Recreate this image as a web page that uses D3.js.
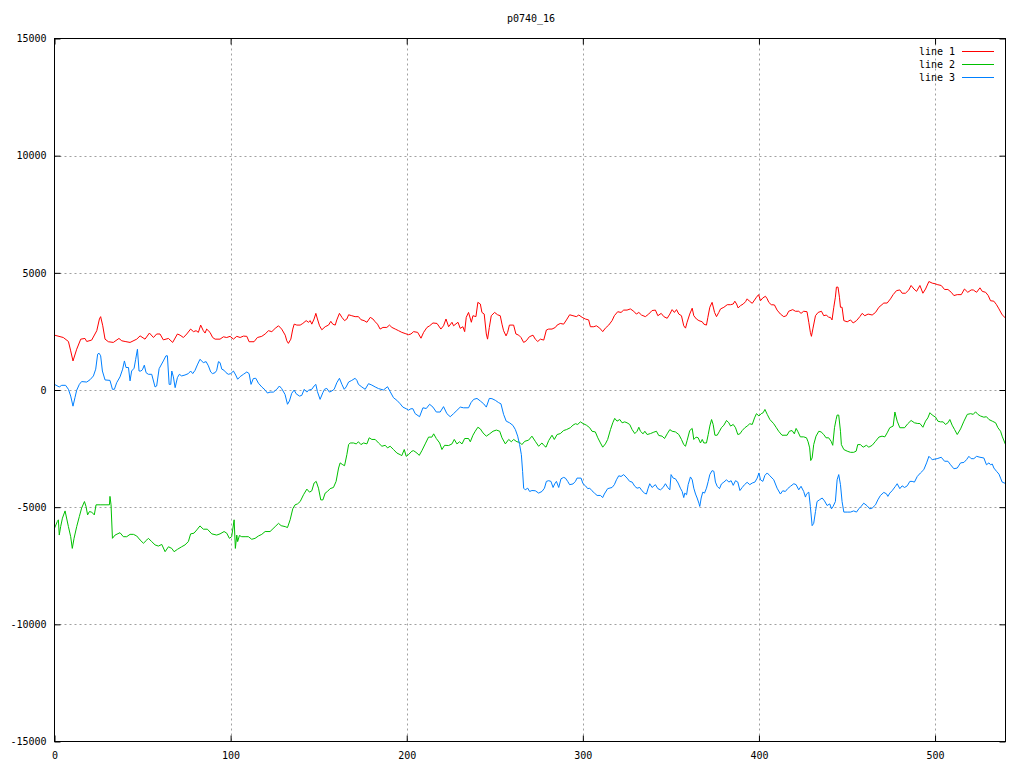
<!DOCTYPE html>
<html><head><meta charset="utf-8">
<script src="https://cdn.jsdelivr.net/npm/d3@7"></script>
<style>body{margin:0;background:#fff}svg{display:block}text{font-family:"DejaVu Sans Mono",monospace;font-size:10px;fill:#000}</style>
</head><body>
<script>
const title = "p0740_16";
const seriesNames = ["line 1", "line 2", "line 3"];
const xTicks = [0, 100, 200, 300, 400, 500];
const yTicks = [-15000, -10000, -5000, 0, 5000, 10000, 15000];
const line1 = [[0,2340],[5,2240],[7.9,2070],[9.2,1670],[10.5,1240],[12.6,1740],[14.9,2170],[17.3,2200],[18.3,2070],[21.1,2130],[24,2530],[25.5,3030],[26.2,3130],[27.4,2740],[28.7,2170],[30.6,2060],[33.4,2030],[36.6,2200],[38.2,2100],[40.1,2070],[42.9,2030],[46.7,2170],[48.6,2310],[51.4,2170],[53.9,2430],[56.2,2240],[58,2390],[59.9,2390],[61.8,2140],[64.7,2200],[67.1,2030],[69.8,2390],[71.3,2340],[73.2,2240],[75.1,2390],[77.3,2600],[78.9,2490],[80.4,2530],[81.7,2460],[83,2770],[84.5,2530],[85.5,2430],[86.4,2600],[88.3,2460],[89.8,2240],[91.2,2170],[94,2170],[95.9,2270],[97.8,2240],[99.7,2290],[101.6,2170],[103.5,2290],[105.4,2240],[107.3,2300],[109.2,2290],[110.5,2060],[113.3,2060],[115.2,2240],[117.7,2290],[119.6,2390],[121.5,2530],[123.4,2490],[125.3,2630],[127.2,2740],[129,2600],[131,2340],[131.9,2100],[132.8,1990],[134.2,2170],[135.3,2600],[136.1,2810],[137.6,2770],[139.5,2770],[141,2840],[142.9,2960],[144.2,2890],[145.2,2960],[146.1,2810],[147.4,3030],[148.4,3270],[149.3,3030],[150.5,2740],[151.8,2570],[153.7,2700],[155.6,2770],[156.9,2930],[158,2810],[159.4,2770],[160.3,2990],[161.8,3270],[163.2,3100],[164.7,2960],[166,3030],[167,3210],[168.8,3170],[170.7,3130],[172.6,3130],[174,3000],[175.8,2960],[177.4,2890],[179.3,3100],[180.8,3030],[182.1,2910],[183.4,2810],[184.9,2600],[186.5,2670],[188.7,2670],[190.2,2770],[191.6,2670],[193.5,2600],[195.4,2530],[197.2,2460],[199.1,2410],[201,2360],[202.4,2390],[203.9,2490],[206.2,2460],[208.1,2210],[209.6,2460],[211.5,2670],[213,2740],[214.9,2860],[217.2,2840],[219.4,2600],[220.9,2740],[222.3,3030],[223.8,2700],[225.7,2890],[226.6,2740],[229.1,2890],[230.4,2630],[231.9,2700],[232.9,2490],[233.8,3100],[235.1,3310],[236.7,2890],[237.6,3170],[239.3,3130],[240.4,3740],[241.8,3670],[242.7,3310],[244,3240],[245.2,2390],[245.9,2170],[246.9,2670],[248,3170],[249.9,3310],[251.6,3210],[253.1,3170],[254.1,2810],[255,2530],[256.4,2310],[257.3,2460],[258.3,2770],[260.7,2770],[262,2390],[263.6,2340],[264.9,2240],[266.4,2030],[267.9,2100],[269.6,2270],[271.7,2340],[273,2170],[274.4,2070],[275.9,2170],[277.8,2130],[279.3,2560],[280.6,2600],[282.5,2600],[284.4,2670],[285.4,2770],[287.2,2840],[289.1,2810],[290.7,2990],[292.5,3210],[294.4,3170],[296.3,3130],[297.7,3200],[299.6,3100],[301.4,3030],[303.3,2990],[304.3,2700],[306.2,2700],[307.7,2740],[309.6,2640],[311.3,2490],[312.8,2640],[314.7,2770],[316.6,2960],[317.9,3170],[319.8,3340],[321.7,3310],[323.2,3410],[325.1,3410],[327,3460],[328.9,3360],[330.4,3240],[331.8,3310],[333.3,3200],[335.5,3130],[337.4,3240],[339.3,3390],[341.2,3410],[342.6,3170],[344.5,3270],[346,3130],[347.9,3060],[349.4,3240],[350.7,3430],[352,3310],[353.2,3430],[354.5,3240],[356,3170],[357.3,2740],[358.3,2640],[359.2,2890],[360.7,3240],[362.1,3490],[363,3170],[364.5,3030],[365.9,2960],[367.8,2910],[368.7,2810],[370.2,2770],[371,3100],[372.1,3530],[373.4,3740],[374.8,3310],[375.9,3130],[377.2,3310],[378.2,3460],[380.1,3530],[382,3640],[383.9,3640],[385.4,3670],[386.3,3790],[387.3,3670],[388.2,3500],[389.5,3600],[391.1,3670],[392.4,3770],[393.3,3890],[394.6,3790],[396.2,3700],[397.5,3840],[398.6,3960],[399.8,4070],[400.9,3810],[402.2,3930],[403.7,4000],[404.7,3890],[405.6,3740],[407,3640],[408.8,3630],[410.3,3410],[412.2,3240],[414.1,3130],[415.6,3170],[416.9,3360],[419.2,3430],[420.7,3360],[422.6,3360],[423.9,3270],[425.4,3360],[427.3,3340],[428.3,2890],[429.2,2460],[429.8,2290],[430.7,2640],[432.1,3170],[433.6,3310],[435.5,3360],[436.8,3170],[438.3,3200],[439.6,3100],[440.6,3100],[441.5,2990],[442.5,3530],[443.4,3960],[444,4390],[444.9,4390],[445.7,3960],[446.3,3530],[447.2,3530],[448.2,2960],[450.1,2910],[452,2990],[453.5,2860],[455.4,2960],[457.3,3130],[458.6,3270],[460.1,3170],[462,3240],[464.3,3200],[466.2,3310],[468.1,3530],[470.9,3710],[472.8,3710],[474.7,3890],[476.2,4070],[478.1,4240],[480,4270],[481.3,4130],[483.2,4130],[485.1,4270],[486.4,4460],[488,4310],[489.5,4210],[491.4,4460],[493.1,4130],[494.6,4310],[496.5,4630],[498.4,4560],[500.3,4530],[501.2,4500],[503.5,4460],[505.4,4290],[507.3,4290],[509.2,4170],[510.7,4030],[512.6,4070],[514.9,4070],[516.7,4310],[518.6,4170],[520.5,4270],[521.7,4270],[523.6,4170],[525.5,4360],[526.8,4210],[528.7,4170],[530.2,4030],[531.5,3810],[533.4,3790],[534.9,3640],[536.3,3460],[538.1,3210],[540,3070]];
const line2 = [[0,-5900],[1.6,-5610],[2.2,-5540],[2.7,-6190],[3.5,-5830],[4.5,-5470],[6,-5160],[7.9,-5830],[9.2,-6260],[10.1,-6760],[11.1,-6330],[12.6,-5830],[14.1,-5400],[15.4,-5040],[17,-4760],[17.9,-4970],[18.8,-5330],[19.8,-5190],[21.1,-5210],[22.6,-5330],[23.6,-4900],[25.9,-4900],[28.7,-4900],[31.2,-4900],[31.5,-4540],[32.1,-4900],[32.9,-6330],[34.4,-6190],[37.2,-6090],[39.1,-6260],[41,-6260],[42.9,-6160],[44.8,-6160],[46.7,-6230],[48.6,-6400],[50.5,-6540],[52.4,-6400],[53.3,-6330],[55.2,-6470],[57.1,-6610],[59,-6660],[60.9,-6590],[62.8,-6900],[64.7,-6690],[66.6,-6760],[67.9,-6900],[69.8,-6800],[72.2,-6690],[74.1,-6610],[76,-6470],[77.3,-6140],[79.2,-6110],[80.8,-5970],[82.6,-5800],[84.5,-5940],[86.8,-5940],[89.3,-6140],[92.1,-6190],[94,-6140],[96.3,-6040],[97.8,-6110],[99.3,-6330],[100.6,-6260],[102,-5540],[102.7,-6760],[103.5,-6190],[104,-6470],[105,-6210],[106.3,-6260],[108.2,-6260],[110.1,-6260],[112,-6370],[113.9,-6330],[115.8,-6230],[117.7,-6160],[119.6,-6040],[122.4,-6040],[125.3,-5830],[127.2,-5690],[128.7,-5790],[131,-5830],[132.3,-5870],[133.8,-5540],[135.3,-5070],[136.6,-4900],[138,-4860],[139.5,-4760],[141.4,-4470],[143.3,-4230],[144.8,-4360],[146.1,-4300],[147.4,-3970],[148.6,-3900],[149.9,-4190],[151.2,-4690],[152.4,-4690],[153.7,-4400],[155,-4330],[156.5,-4210],[158.4,-4160],[159.9,-3900],[161.3,-3330],[162.2,-3110],[163.7,-3190],[164.7,-3230],[166,-2760],[167,-2330],[167.9,-2260],[169.8,-2260],[171.3,-2300],[172.6,-2210],[174,-2330],[175.5,-2260],[177.4,-2300],[178.7,-2040],[180.2,-2110],[182.1,-2110],[184,-2260],[185.9,-2400],[187.8,-2360],[189.1,-2470],[190.6,-2400],[192.5,-2540],[194.4,-2690],[196.3,-2760],[197.2,-2800],[198.6,-2540],[199.7,-2830],[201,-2760],[202.9,-2610],[203.9,-2590],[205.8,-2690],[207.1,-2790],[208.6,-2590],[210.5,-2300],[212.4,-2010],[214.3,-2010],[215.3,-1870],[216.8,-2070],[218.7,-2260],[220,-2540],[221.5,-2360],[223.8,-2370],[225.7,-2300],[227,-2110],[228.5,-2300],[230,-2210],[231.4,-2300],[232.9,-2070],[235.1,-2070],[236.1,-2210],[237.6,-1930],[238.9,-1760],[240.4,-1590],[241.8,-1660],[243.3,-1830],[245.2,-1970],[247.1,-1870],[249,-1760],[250.9,-1710],[252.8,-1760],[254.1,-2040],[256,-2300],[257.9,-2110],[259.4,-2210],[260.7,-2110],[262.6,-2210],[264.1,-2230],[265.4,-2330],[267,-2190],[269.2,-2140],[271.1,-1970],[273,-2190],[274.9,-2400],[276.8,-2260],[277.8,-2360],[279.1,-2440],[280.6,-2160],[282.5,-1930],[283.8,-2110],[285.4,-1900],[287.2,-1860],[289.1,-1730],[290.7,-1690],[292.9,-1610],[294.4,-1500],[295.8,-1440],[297.1,-1470],[298.6,-1360],[300.1,-1430],[302,-1500],[303.9,-1610],[305.2,-1760],[307.1,-1790],[308.5,-2040],[310,-2260],[311.3,-2440],[312.8,-2300],[314.1,-2110],[315.7,-1690],[317,-1400],[318.1,-1210],[319.4,-1330],[321,-1260],[322.3,-1400],[323.8,-1360],[325.1,-1400],[326.6,-1470],[328,-1690],[329.5,-1860],[330.8,-1760],[331.8,-1590],[332.7,-1760],[334.2,-1870],[335.2,-1760],[336.5,-1900],[338.4,-1860],[340.3,-1800],[341.8,-1760],[343.1,-1940],[345,-1970],[346.4,-2070],[347.9,-1870],[349.4,-1690],[350.7,-1760],[352.6,-1790],[354.5,-1900],[356,-2110],[357.3,-2330],[358.3,-2400],[359.2,-2160],[360.7,-1730],[362.1,-1640],[363,-2110],[364.3,-2010],[365.5,-2040],[366.8,-2260],[367.8,-2110],[368.7,-2260],[370.2,-2260],[371.2,-1900],[372.1,-1540],[373.1,-1260],[374,-1470],[375,-1930],[376.3,-1930],[377.6,-1760],[378.7,-1610],[380.1,-1500],[381.6,-1300],[382.9,-1400],[383.9,-1540],[385.4,-1470],[386.7,-1610],[388,-1900],[389.2,-1870],[390.5,-1730],[392,-1610],[393.3,-1540],[394.8,-1440],[396.2,-1470],[397.5,-1190],[398.6,-1010],[400,-1110],[401.3,-1010],[402.4,-970],[403.4,-830],[404.7,-1040],[406.2,-1260],[408.4,-1440],[409.9,-1610],[411.2,-1760],[413.1,-1930],[416,-1930],[417.3,-1760],[418.8,-1730],[420.1,-1870],[421.1,-1640],[422,-1760],[423.5,-2000],[425.4,-2000],[427,-2040],[427.9,-2210],[428.8,-2470],[429.4,-3010],[430.2,-2900],[431.1,-2330],[432.4,-1970],[434,-1760],[435.3,-1790],[436.8,-1900],[438.1,-2040],[439.6,-2040],[441,-2190],[441.9,-2360],[442.9,-1610],[443.8,-1260],[444.4,-1070],[445.3,-1070],[446.3,-1760],[446.8,-2330],[448.2,-2540],[450.1,-2610],[452,-2660],[453.8,-2660],[455.2,-2610],[456.1,-2330],[457.6,-2330],[459.2,-2440],[461,-2360],[462.4,-2440],[464.3,-2360],[466.2,-2190],[468.1,-2010],[469.9,-1970],[471.5,-2000],[472.8,-1830],[474.3,-1610],[476.2,-1540],[477.2,-940],[478.5,-1330],[480,-1610],[482.7,-1610],[484.5,-1440],[486.4,-1300],[488.3,-1400],[490.2,-1430],[491.4,-1430],[493.1,-1590],[494.6,-1330],[495.9,-1190],[497.1,-970],[498.4,-1070],[500.3,-1160],[501.6,-1330],[503.1,-1360],[504.6,-1360],[505.9,-1470],[507.3,-1400],[508.4,-1260],[509.7,-1500],[511.1,-1690],[512.6,-1900],[514.5,-1660],[516.4,-1330],[518.3,-1040],[520.2,-1010],[521.7,-1040],[523,-930],[524.3,-1040],[525.8,-1110],[527.7,-1160],[529.2,-1140],[530.6,-1260],[532.5,-1330],[534.4,-1400],[535.7,-1610],[537.2,-1760],[538.1,-1970],[540,-2330]];
const line3 = [[0,240],[2.7,130],[4.1,200],[6.3,200],[7.9,30],[9.2,-260],[10.5,-690],[11.6,-330],[12.6,-10],[14.1,240],[15.4,360],[18.3,340],[20.2,440],[22.1,600],[23.4,890],[24.5,1530],[25.3,1570],[26.2,1460],[27.2,810],[28.7,430],[31.5,410],[32.9,30],[34,30],[35.3,310],[37.2,560],[38.7,890],[39.7,1240],[40.6,960],[42,960],[42.9,390],[43.8,810],[45.2,930],[46.1,1310],[47.1,1740],[48,810],[49,810],[49.9,860],[51,1060],[52,740],[53.3,670],[55.2,670],[57.1,130],[58,170],[59.4,910],[61.8,1240],[63.3,1460],[64.1,1460],[65.1,240],[66,240],[66.6,810],[67.5,560],[68.5,100],[69.8,530],[70.9,670],[72.2,600],[74.1,640],[76,700],[77.3,810],[78.5,700],[79.8,840],[81.1,1070],[82.6,1310],[84.5,1170],[86.1,1210],[87.4,1030],[88.7,770],[89.7,700],[91.2,740],[92.1,840],[93.1,1210],[94,1170],[95,890],[96.3,840],[97.4,740],[98.7,670],[100.1,700],[101.6,810],[102.9,640],[104,460],[105.4,570],[107.3,670],[109.2,770],[110.5,700],[111.6,240],[112.9,490],[114.3,500],[115.8,290],[117.7,130],[119.6,0],[120.9,-130],[122.4,-90],[124.3,-90],[126.2,30],[127.7,170],[129,60],[130.9,-190],[132.3,-610],[133.4,-470],[134.7,-140],[136.1,0],[137.2,-160],[139.1,-260],[140.4,-230],[141.8,30],[143.3,-90],[144.2,-10],[146.1,30],[147.4,170],[148.4,240],[149.3,-70],[150.8,-400],[152.4,-110],[153.3,30],[154.6,70],[156.1,-90],[157.5,-40],[158.8,30],[160.3,310],[161.8,500],[163.2,240],[164.5,30],[165.6,130],[167,340],[168.8,410],[170.7,500],[171.7,410],[172.6,240],[174.5,130],[176.4,30],[178.3,270],[180.2,210],[182.1,130],[184,60],[186.8,0],[189.1,140],[190.6,-70],[192.5,-330],[194.4,-440],[196.3,-590],[197.8,-730],[199.7,-800],[201,-860],[202.4,-800],[203.5,-800],[204.8,-1010],[207.3,-1140],[209.2,-760],[211.1,-790],[213,-610],[214.9,-730],[216.8,-940],[219,-940],[220.9,-710],[222.8,-1010],[224.7,-1140],[226.6,-1010],[228.5,-870],[230.4,-730],[232.3,-760],[235.1,-760],[236.5,-540],[238,-400],[239.9,-360],[241.8,-470],[243.7,-590],[245.2,-730],[246.9,-360],[248.4,-370],[250.3,-440],[252.2,-540],[253.5,-590],[255,-1040],[256.5,-1330],[258.4,-1400],[260.3,-1510],[261.7,-1690],[263,-1970],[264.1,-2330],[265.1,-2760],[265.8,-3470],[266.4,-4190],[267.3,-4260],[268.7,-4190],[269.8,-4330],[271.1,-4290],[273,-4300],[274.9,-4400],[276.8,-4330],[278.2,-4190],[279.3,-3900],[280.6,-3870],[281.9,-3900],[283.1,-4160],[284,-4010],[285,-3900],[286.3,-4160],[287.6,-3790],[289.1,-3730],[290.1,-3760],[291.4,-3900],[292.5,-4040],[294.4,-4010],[295.8,-3900],[296.7,-3760],[299,-3760],[300.1,-4000],[301.5,-4090],[302.8,-4210],[303.9,-4190],[305.2,-4300],[306.6,-4400],[308.1,-4500],[310,-4500],[311.3,-4590],[312.2,-4440],[314.1,-4210],[316.6,-4160],[317.9,-4040],[319.1,-3830],[320.4,-3660],[321.7,-3690],[323.2,-3610],[325.1,-3760],[326.6,-3900],[328,-3930],[329.5,-4110],[330.8,-4190],[332.3,-4160],[333.6,-4300],[335,-4400],[336.1,-4440],[337.1,-4190],[338,-4000],[339.3,-4160],[341.2,-4040],[342.6,-4210],[344.1,-4260],[345.6,-4160],[346.9,-4000],[348.2,-4160],[349.4,-4260],[350.1,-3610],[351.3,-3760],[352.6,-3790],[354.1,-3970],[355.4,-4190],[356.4,-4330],[357.3,-4590],[357.9,-4400],[358.9,-4470],[359.8,-4040],[361.1,-3710],[362.1,-3830],[363,-4190],[364,-4440],[364.9,-4610],[365.9,-4830],[366.4,-4970],[367.2,-4610],[368.1,-4360],[369.1,-4400],[370.2,-4190],[371.2,-3900],[372.1,-3610],[373.4,-3440],[374.4,-3470],[375.3,-3930],[376.3,-4110],[377.6,-4210],[378.7,-4010],[380.1,-3930],[381.6,-3830],[382.9,-3930],[384.2,-3870],[385.4,-4070],[386.7,-3870],[388,-3930],[389.2,-4290],[390.5,-4160],[391.8,-4040],[393.3,-3940],[394.8,-4040],[396.2,-3970],[397.7,-3930],[399,-3760],[400,-3540],[400.9,-3830],[402.2,-3900],[403.4,-3640],[404.7,-3540],[406.2,-3660],[408.4,-3830],[410.3,-4190],[412.2,-4440],[413.5,-4300],[415,-4330],[416.3,-4210],[417.9,-4110],[419.8,-4000],[421.1,-4040],[422.6,-4260],[423.9,-4110],[425.4,-4330],[426.4,-4570],[427,-4440],[428.3,-4360],[429.2,-4970],[430.2,-5790],[431.1,-5690],[432.1,-5190],[433,-4760],[434.3,-4690],[435.9,-4610],[437.2,-4730],[438.7,-4930],[440.2,-4860],[441.2,-5070],[442.1,-4970],[443.4,-4760],[444.4,-3830],[445.3,-3610],[446.3,-4040],[447.2,-4760],[448.2,-5210],[450.1,-5210],[452,-5210],[453.8,-5160],[455.4,-5210],[456.7,-5070],[458,-4970],[459.5,-4830],[461.4,-4940],[462.9,-5070],[464.3,-5040],[466.2,-4900],[467.5,-4690],[469,-4500],[470.9,-4370],[472.4,-4430],[473.2,-4540],[474.3,-4400],[475.6,-4300],[477.5,-4110],[478.5,-4000],[480,-4210],[481.3,-4090],[482.7,-4160],[484.2,-4090],[485.7,-3900],[487,-3900],[488.3,-3930],[489.9,-3690],[491.7,-3540],[493.6,-3400],[495.2,-3110],[496.5,-2830],[497.4,-2900],[498.4,-2970],[501.2,-2930],[503.5,-2870],[505.4,-3040],[507.3,-3040],[508.8,-3190],[510.7,-3360],[512.6,-3330],[514.5,-3110],[516.4,-3090],[517.9,-2970],[519.2,-2830],[520.5,-2930],[522,-2930],[523.6,-2830],[525.5,-2870],[527.7,-2900],[529.2,-3190],[530.6,-3110],[531.5,-3190],[532.5,-3160],[533.4,-3330],[534.9,-3470],[536.3,-3590],[537.2,-3760],[538.1,-3930],[540,-3990]];
const seriesData = [line1, line2, line3];
const seriesColors = ["#ff0000", "#00c000", "#0080ff"];

const W = 1024, H = 768;
const m = {left: 54.5, right: 1005.5, top: 38.5, bottom: 741.5};
const svg = d3.select("body").append("svg").attr("width", W).attr("height", H);
const x = d3.scaleLinear().domain([0, 540]).range([m.left, m.right]);
const y = d3.scaleLinear().domain([-15000, 15000]).range([m.bottom, m.top]);

// grid
const grid = svg.append("g").attr("stroke", "#a0a0a0").attr("stroke-width", 1).attr("stroke-dasharray", "2,3");
xTicks.filter(t => t > 0).forEach(t => {
  grid.append("line").attr("x1", Math.round(x(t)) + 0.5).attr("x2", Math.round(x(t)) + 0.5).attr("y1", m.top).attr("y2", m.bottom);
});
yTicks.filter(t => t > -15000 && t < 15000).forEach(t => {
  grid.append("line").attr("y1", Math.round(y(t)) + 0.5).attr("y2", Math.round(y(t)) + 0.5).attr("x1", m.left).attr("x2", m.right);
});

// axes with inward ticks (bottom/top/left/right)
const tickLen = 6;
const fmt = d => String(d);
const axB = svg.append("g").attr("transform", `translate(0,${m.bottom})`)
  .call(d3.axisBottom(x).tickValues(xTicks).tickFormat(fmt).tickSizeInner(-tickLen).tickSizeOuter(0).tickPadding(10));
const axT = svg.append("g").attr("transform", `translate(0,${m.top})`)
  .call(d3.axisTop(x).tickValues(xTicks).tickSizeInner(-tickLen).tickSizeOuter(0).tickFormat(""));
const axL = svg.append("g").attr("transform", `translate(${m.left},0)`)
  .call(d3.axisLeft(y).tickValues(yTicks).tickFormat(fmt).tickSizeInner(-tickLen).tickSizeOuter(0).tickPadding(8));
const axR = svg.append("g").attr("transform", `translate(${m.right},0)`)
  .call(d3.axisRight(y).tickValues(yTicks).tickSizeInner(-tickLen).tickSizeOuter(0).tickFormat(""));
[axB, axT, axL, axR].forEach(a => {
  a.select(".domain").remove();
  a.selectAll("line").attr("stroke", "#000");
  a.selectAll("text").attr("font-family", '"DejaVu Sans Mono", monospace').attr("font-size", 10).attr("fill", "#000");
});

// lines
const lineGen = d3.line().x(d => x(d[0])).y(d => y(d[1]));
seriesData.forEach((data, i) => {
  svg.append("path").datum(data).attr("d", lineGen)
    .attr("fill", "none").attr("stroke", seriesColors[i]).attr("stroke-width", 1);
});

// border
svg.append("rect").attr("x", m.left).attr("y", m.top).attr("width", m.right - m.left).attr("height", m.bottom - m.top)
  .attr("fill", "none").attr("stroke", "#000").attr("stroke-width", 1);

// title
svg.append("text").attr("x", (m.left + m.right) / 2 + 1).attr("y", 22).attr("text-anchor", "middle").text(title);

// legend
const leg = svg.append("g");
seriesNames.forEach((name, i) => {
  const ly = 51.5 + i * 13;
  leg.append("text").attr("x", 955).attr("y", ly + 3.5).attr("text-anchor", "end").text(name);
  leg.append("line").attr("x1", 962).attr("x2", 994).attr("y1", ly).attr("y2", ly)
    .attr("stroke", seriesColors[i]).attr("stroke-width", 1);
});
</script>
</body></html>
